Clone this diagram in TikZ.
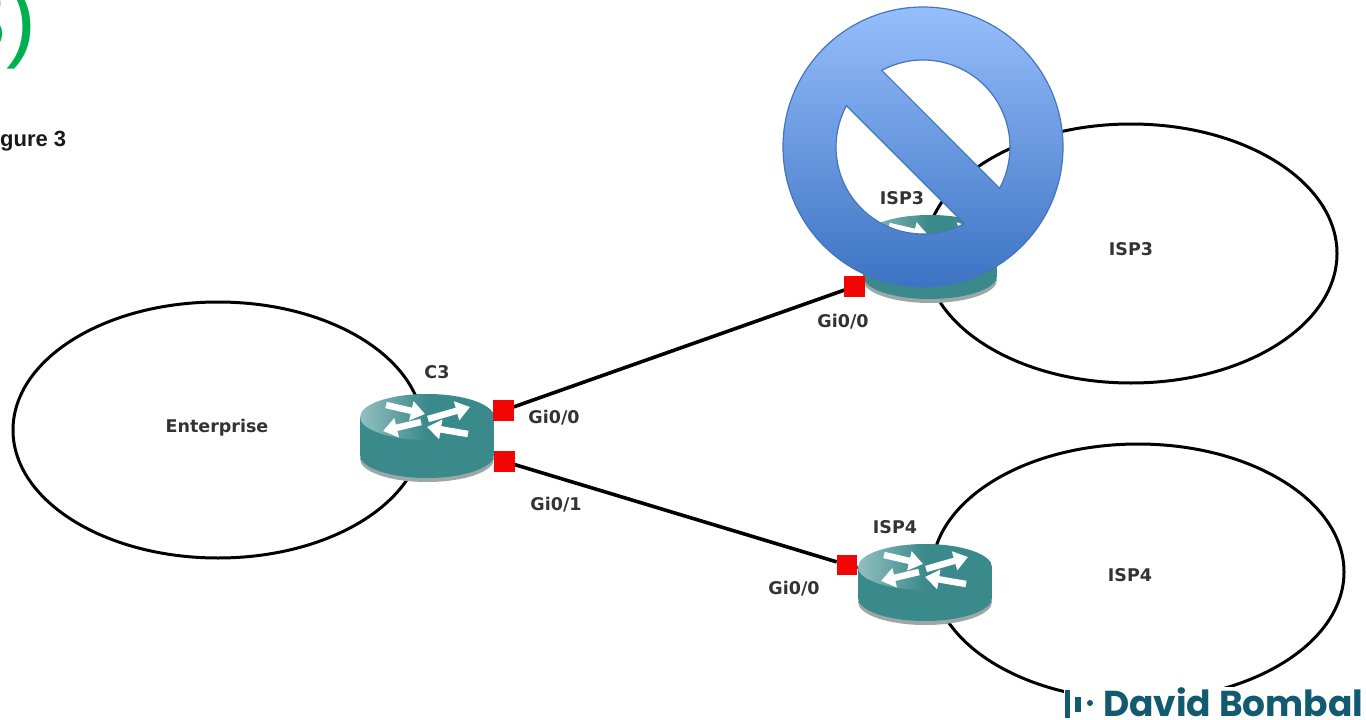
\documentclass[tikz,border=0pt]{standalone}
\usepackage{fontspec}
\usetikzlibrary{arrows.meta}
\setmainfont{DejaVu Sans}
\newfontfamily\lblfont{DejaVu Sans}
\newfontfamily\headfont{Liberation Sans}
\newfontfamily\figfont{Liberation Sans}
\newfontfamily\logofont{Poppins}
\definecolor{teal1}{HTML}{3A898B}
\definecolor{teal2}{HTML}{93BFBF}
\definecolor{shadowc}{HTML}{9CA8A8}
\definecolor{redp}{HTML}{F20505}
\definecolor{bantop}{HTML}{96BEFC}
\definecolor{banbot}{HTML}{3C73C3}
\definecolor{banline}{HTML}{4576B8}
\definecolor{logoc}{HTML}{125A70}
\definecolor{greenh}{HTML}{00B050}
\tikzset{
  cloudring/.style={draw=black,line width=3pt,fill=none},
  wire/.style={draw=black,line width=3.6pt},
  portbox/.style={fill=redp,draw=none,minimum size=20.5pt,inner sep=0pt,outer sep=0pt},
  lbl/.style={font=\lblfont\bfseries\fontsize{17.5}{20}\selectfont,text=black!80,inner sep=0pt},
  routerbox/.style={draw=none,fill=none,minimum width=134pt,minimum height=84pt,inner sep=0pt},
  arw/.style={draw=white,line width=6.5pt,-{Triangle[length=14pt,width=19pt]}}
}
\newcommand{\routerart}[3]{% cx, top-ellipse cy, height between ellipses
  \begin{scope}[shift={(#1,#2)}]
    \fill[shadowc] (0,#3+4) ellipse [x radius=67,y radius=23];
    \fill[teal1] (-67,0) rectangle (67,#3);
    \fill[teal1] (0,#3) ellipse [x radius=67,y radius=23];
    \shade[left color=teal2,right color=teal1,middle color=teal1] (0,0) ellipse [x radius=67,y radius=23];
    \draw[arw] (-41,-12) -- (-2,-3);
    \draw[arw] (1,2) -- (43,-10);
    \draw[arw] (-6,5) -- (-44,14);
    \draw[arw] (41,17) -- (0,10);
  \end{scope}
}
\begin{document}
\begin{tikzpicture}[x=1pt,y=1pt,yscale=-1]
\useasboundingbox (0,0) rectangle (1366,720);
\fill[white] (0,0) rectangle (1366,720);
\clip (0,0) rectangle (1366,720);
% headings
\node[anchor=base east,inner sep=0pt,text=greenh,font=\headfont\fontsize{90}{90}\selectfont] (head) at (37,50) {3)};
\node[anchor=base west,inner sep=0pt,font=\figfont\bfseries\fontsize{22}{24}\selectfont,text=black!90] (figlabel) at (0,146) {gure 3};
% clouds
\node[draw=none,inner sep=0pt] (entcloud) at (218,430) {};
\draw[cloudring] (entcloud) ellipse [x radius=205,y radius=128];
\node[draw=none,inner sep=0pt] (isp3cloud) at (1131,253.5) {};
\draw[cloudring] (isp3cloud) ellipse [x radius=206,y radius=129.5];
\node[draw=none,inner sep=0pt] (isp4cloud) at (1138,572) {};
\draw[cloudring] (isp4cloud) ellipse [x radius=206,y radius=128];
% ports and routers
\node[routerbox] (c3) at (427,436) {};
\node[routerbox] (isp3r) at (930,257) {};
\node[routerbox] (isp4r) at (925,582) {};
\node[portbox] (c3a) at (503.5,410.5) {};
\node[portbox] (c3b) at (504.5,461.5) {};
\node[portbox] (isp3p) at (854.5,286.5) {};
\node[portbox] (isp4p) at (847,565) {};
\draw[wire] (c3) -- (c3a) -- (isp3p) -- (isp3r);
\draw[wire] (c3) -- (c3b) -- (isp4p) -- (isp4r);
\routerart{427}{417}{38}
\routerart{930}{238}{38}
\routerart{925}{567}{31}
\node[portbox] at (c3a) {};
\node[portbox] at (c3b) {};
\node[portbox] at (isp3p) {};
\node[portbox] at (isp4p) {};
% labels
\node[lbl] (t1) at (217,428) {Enterprise};
\node[lbl] (t2) at (437,372) {C3};
\node[lbl] (t3) at (554,418) {Gi0/0};
\node[lbl] (t4) at (556,505) {Gi0/1};
\node[lbl] (t5) at (843,322) {Gi0/0};
\node[lbl] (t6) at (794,589) {Gi0/0};
\node[lbl] (t7) at (902,198) {ISP3};
\node[lbl] (t8) at (1131,249) {ISP3};
\node[lbl] (t9) at (895,527) {ISP4};
\node[lbl] (t10) at (1130,575) {ISP4};
% prohibition sign
\coordinate (ban) at (923,147);
\shade[even odd rule,top color=bantop,bottom color=banbot]
  (ban) circle [radius=140]
  (ban) ++(-118.3:87) arc [start angle=-118.3,end angle=28.3,radius=87] -- cycle
  (ban) ++(61.7:87) arc [start angle=61.7,end angle=208.3,radius=87] -- cycle;
\draw[banline,line width=1.2pt]
  (ban) circle [radius=140]
  (ban) ++(-118.3:87) arc [start angle=-118.3,end angle=28.3,radius=87] -- cycle
  (ban) ++(61.7:87) arc [start angle=61.7,end angle=208.3,radius=87] -- cycle;
% logo
\fill[white] (1064,687) rectangle (1366,720);
\fill[logoc] (1065,690) rectangle (1070,718);
\fill[logoc] (1075,697) rectangle (1081,712);
\fill[logoc] (1090,703) circle [radius=3];
\node[anchor=base west,inner sep=0pt,text=logoc,font=\logofont\bfseries\fontsize{36}{38}\selectfont] (logo) at (1103,716) {David Bombal};
\end{tikzpicture}
\end{document}
